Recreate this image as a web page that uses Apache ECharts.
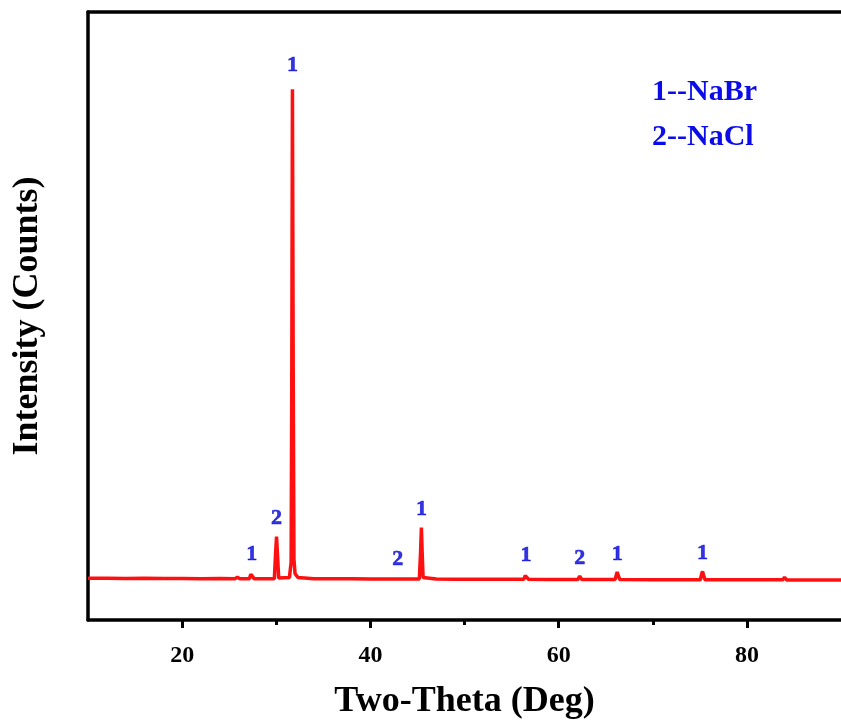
<!DOCTYPE html>
<html>
<head>
<meta charset="utf-8">
<style>
  html, body { margin: 0; padding: 0; background: #fff; }
  #chart { width: 841px; height: 726px; }
</style>
<script src="https://cdn.jsdelivr.net/npm/echarts@6/dist/echarts.min.js"></script>
</head>
<body>
<div id="chart"></div>
<script>
// XRD pattern, [2theta, intensity]
var pattern = [
  [10, 68.5], [12, 68.8], [14, 68.3], [16, 68.6], [18, 68.1], [20, 68.3],
  [22, 67.9], [24, 68.2], [25.6, 68], [25.87, 70.5], [26.1, 68],
  [27.15, 68], [27.3, 75], [27.39, 78], [27.5, 74], [27.65, 68],
  [28.45, 68], [28.66, 70.5], [28.85, 68],
  [29.8, 68], [29.93, 110], [30.03, 137], [30.13, 108], [30.26, 69],
  [31.4, 70], [31.58, 95], [31.65, 400], [31.72, 873], [31.8, 420], [31.88, 100],
  [32.0, 76], [32.3, 70], [34, 68], [36, 67.8], [38, 68], [40, 67.6],
  [42.7, 67.5], [42.9, 70.5], [43.1, 67.5],
  [45.2, 67.5], [45.33, 110], [45.42, 152], [45.51, 108], [45.6, 70], [45.8, 67.6],
  [47, 67.3], [49, 67.2], [50.6, 67.2], [50.8, 69], [51, 67.1],
  [53.3, 67], [53.5, 68.5], [53.7, 67],
  [56.3, 67], [56.45, 73], [56.53, 76], [56.62, 72], [56.8, 67],
  [59, 66.8], [62.05, 66.7], [62.24, 72], [62.45, 66.7],
  [66, 66.6], [66.14, 75], [66.22, 79], [66.31, 74], [66.5, 66.6],
  [70, 66.4], [73, 66.3], [75.05, 66.2], [75.2, 76], [75.29, 80], [75.38, 75], [75.55, 66.2],
  [78, 66], [81, 66], [83.8, 66], [84, 70], [84.25, 65.9], [87, 65.8], [90, 65.7]
];

// labelled reflections
var peakAt = [27.39, 30.03, 31.72, 42.9, 45.42, 56.53, 62.24, 66.22, 75.29];
var peakTop = [78, 137, 873, 70.5, 152, 76, 72, 79, 80];
var peakPhase = ['1', '2', '1', '2', '1', '1', '2', '1', '1'];

var legendLines = ['1--NaBr', '2--NaCl'];

var majorTicks = [20, 40, 60, 80];
var minorTicks = [30, 50, 70];

var serif = "'Times New Roman', 'Liberation Serif', serif";
var blue = '#0c0ce8';
var black = '#000';

var peakData = peakAt.map(function (x, i) {
  var item = { value: [x, peakTop[i]], name: peakPhase[i] };
  // tallest reflection has its label set a bit higher
  if (peakTop[i] > 500) item.label = { distance: 13 };
  return item;
});

var myChart = echarts.init(document.getElementById('chart'));
myChart.setOption({
  animation: false,
  grid: { left: 88, top: 12, right: 0, height: 608 },
  xAxis: [
    {
      type: 'value', min: 10, max: 90, interval: 10,
      position: 'bottom',
      axisLine: { show: true, lineStyle: { color: black, width: 3.5 } },
      axisTick: { show: true, customValues: majorTicks, length: 8, lineStyle: { color: black, width: 3 } },
      axisLabel: {
        customValues: majorTicks, margin: 24,
        color: black, fontFamily: serif, fontWeight: 'bold', fontSize: 24
      },
      splitLine: { show: false },
      name: 'Two-Theta (Deg)', nameLocation: 'middle', nameGap: 64,
      nameTextStyle: { color: black, fontFamily: serif, fontWeight: 'bold', fontSize: 36 }
    },
    {
      type: 'value', min: 10, max: 90, interval: 10,
      position: 'bottom',
      axisLine: { show: false },
      axisTick: { show: true, customValues: minorTicks, length: 5, lineStyle: { color: black, width: 3 } },
      axisLabel: { show: false },
      splitLine: { show: false }
    },
    // top frame line
    {
      type: 'value', min: 10, max: 90,
      position: 'top',
      axisLine: { show: true, lineStyle: { color: black, width: 3.5 } },
      axisTick: { show: false },
      axisLabel: { show: false },
      splitLine: { show: false }
    }
  ],
  yAxis: {
    type: 'value', min: 0, max: 1000,
    axisLine: { show: true, lineStyle: { color: black, width: 3.5 } },
    axisTick: { show: false },
    axisLabel: { show: false },
    splitLine: { show: false },
    name: 'Intensity (Counts)', nameLocation: 'middle', nameGap: 42, nameRotate: 90,
    nameTextStyle: { color: black, fontFamily: serif, fontWeight: 'bold', fontSize: 36 }
  },
  series: [
    {
      type: 'line',
      data: pattern,
      showSymbol: false,
      lineStyle: { color: '#ff1010', width: 3.5 },
      z: 3
    },
    {
      type: 'scatter',
      data: peakData,
      symbolSize: 0,
      label: {
        show: true, position: 'top', distance: 7,
        formatter: function (p) { return p.name; },
        color: '#0000d8', fontFamily: serif, fontWeight: 'bold', fontSize: 22,
        textBorderColor: '#0000d8', textBorderWidth: 0.6
      },
      z: 4
    }
  ],
  graphic: legendLines.map(function (t, i) {
    return {
      type: 'text', left: 652, top: 77 + i * 45,
      style: { text: t, fill: blue, font: 'bold 30px ' + serif }
    };
  })
});
</script>
</body>
</html>
